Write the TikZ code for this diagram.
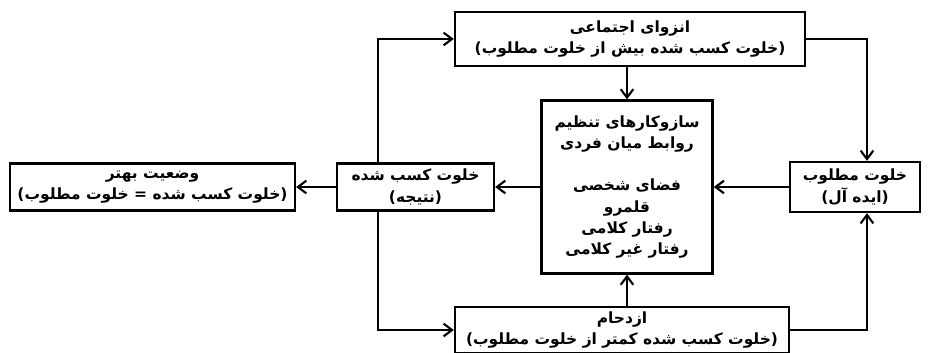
\documentclass[tikz,border=0pt]{standalone}
\usepackage{fontspec}
\usetikzlibrary{arrows.meta,positioning}
\TeXXeTstate=1
\newfontfamily\farsi[Script=Arabic]{DejaVu Sans}
\newcommand{\fa}[1]{{\farsi\bfseries\beginR #1\endR}}

\begin{document}
\begin{tikzpicture}[
  x=0.025cm, y=-0.025cm,
  font=\fontsize{11}{15}\selectfont,
  box/.style={draw,line width=1.7pt,shape=rectangle,inner sep=2pt,align=center},
  to/.style={-{Straight Barb[length=6pt,width=9pt,line width=1.5pt]},line width=1.7pt},
  every node/.style={align=center}]

  \useasboundingbox (0,0) rectangle (928,353);

  % Position the boxes at their pixel centres
  \node[box,minimum width=8.75cm,minimum height=1.35cm] (isolation) at (630,39)
    {\fa{انزوای اجتماعی}\\ \fa{(خلوت کسب شده بیش از خلوت مطلوب)}};
  \node[box,minimum width=4.28cm,minimum height=4.32cm] (mechanisms) at (627,187)
    {\fa{سازوکارهای تنظیم}\\ \fa{روابط میان فردی}\\[15pt]
     \fa{فضای شخصی}\\ \fa{قلمرو}\\ \fa{رفتار کلامی}\\ \fa{رفتار غیر کلامی}};
  \node[box,minimum width=3.92cm,minimum height=1.18cm] (achieved) at (415.5,187)
    {\fa{خلوت کسب شده}\\ \fa{(نتیجه)}};
  \node[box,minimum width=7.12cm,minimum height=1.18cm] (better) at (152.5,187)
    {\fa{وضعیت بهتر}\\ \fa{(خلوت کسب شده = خلوت مطلوب)}};
  \node[box,minimum width=3.25cm,minimum height=1.25cm] (desired) at (855,187)
    {\fa{خلوت مطلوب}\\ \fa{(ایده آل)}};
  \node[box,minimum width=8.35cm,minimum height=1.15cm] (crowding) at (622,330)
    {\fa{ازدحام}\\ \fa{(خلوت کسب شده کمتر از خلوت مطلوب)}};

  % Draw the arrows between the boxes
  \draw[to] ([xshift=-0.94cm]achieved.north) |- (isolation.west);
  \draw[to] ([xshift=-0.94cm]achieved.south) |- (crowding.west);
  \draw[to] (isolation.south -| mechanisms) -- (mechanisms.north);
  \draw[to] (crowding.north -| mechanisms) -- (mechanisms.south);
  \draw[to] (isolation.east) -| ([xshift=0.3cm]desired.north);
  \draw[to] (crowding.east) -| ([xshift=0.3cm]desired.south);
  \draw[to] (desired.west) -- (mechanisms.east);
  \draw[to] (mechanisms.west) -- (achieved.east);
  \draw[to] (achieved.west) -- (better.east);

\end{tikzpicture}
\end{document}
